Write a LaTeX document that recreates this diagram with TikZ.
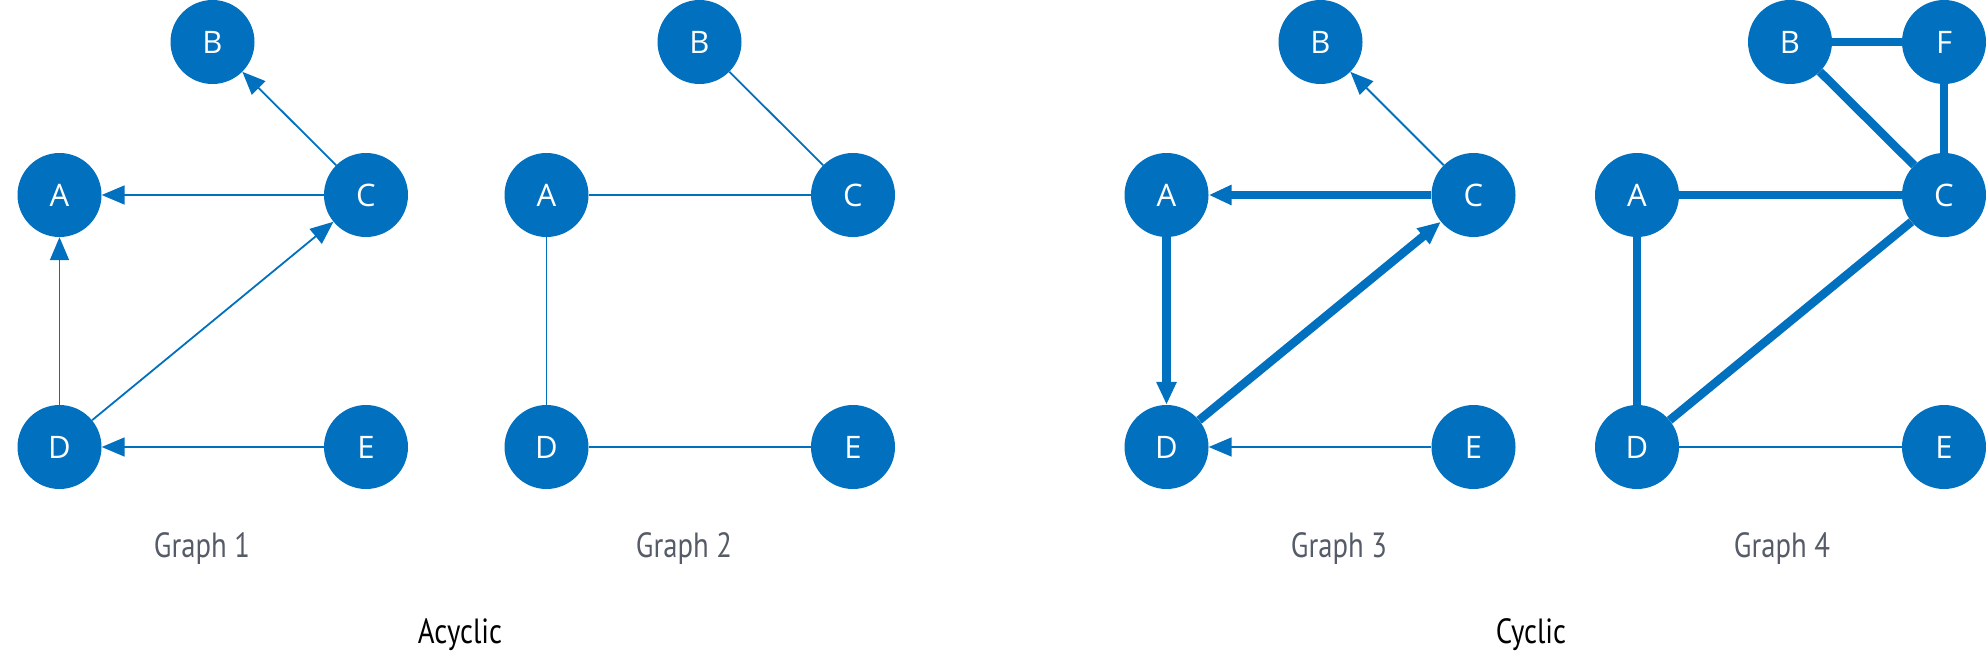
\documentclass[tikz,border=0pt]{standalone}
\usepackage{fontspec}
\usetikzlibrary{arrows.meta}
\newfontfamily\nodefont{Open Sans}
\newfontfamily\labfont[FakeStretch=0.82]{PT Sans}
\definecolor{gblue}{HTML}{0070BF}
\definecolor{ggray}{HTML}{555C68}
\tikzset{
  gnode/.style={circle, fill=gblue, draw=none, minimum size=84pt, inner sep=0pt,
    text=white, font=\nodefont\fontsize{31}{31}\selectfont},
  thinedge/.style={draw=gblue, line width=1.8pt},
  thickedge/.style={draw=gblue, line width=8.5pt},
  arr/.style={-{Triangle[length=23pt,width=19pt]}},
  glabel/.style={anchor=base, text=ggray, font=\labfont\fontsize{35}{35}\selectfont},
  clabel/.style={anchor=base, text=black, font=\labfont\fontsize{35}{35}\selectfont}
}
\begin{document}
\begin{tikzpicture}[x=1pt,y=-1pt]
\useasboundingbox (0,0) rectangle (1986,658);
% Graph 1
\node[gnode] (a1) at (59.5,195) {A};
\node[gnode] (b1) at (212.5,42) {B};
\node[gnode] (c1) at (366,195) {C};
\node[gnode] (d1) at (59.5,447) {D};
\node[gnode] (e1) at (366,447) {E};
\draw[thinedge,arr] (c1) -- (b1);
\draw[thinedge,arr] (c1) -- (a1);
\draw[thinedge,arr] (d1) -- (a1);
\draw[thinedge,arr] (d1) -- (c1);
\draw[thinedge,arr] (e1) -- (d1);
\node[glabel] (g1) at (202,557) {Graph 1};
% Graph 2
\node[gnode] (a2) at (546.5,195) {A};
\node[gnode] (b2) at (699.5,42) {B};
\node[gnode] (c2) at (853,195) {C};
\node[gnode] (d2) at (546.5,447) {D};
\node[gnode] (e2) at (853,447) {E};
\draw[thinedge] (b2) -- (c2);
\draw[thinedge] (a2) -- (c2);
\draw[thinedge] (a2) -- (d2);
\draw[thinedge] (d2) -- (e2);
\node[glabel] (g2) at (684,557) {Graph 2};
% Graph 3
\node[gnode] (a3) at (1166.5,195) {A};
\node[gnode] (b3) at (1320.5,42) {B};
\node[gnode] (c3) at (1473.5,195) {C};
\node[gnode] (d3) at (1166.5,447) {D};
\node[gnode] (e3) at (1473.5,447) {E};
\draw[thinedge,arr] (c3) -- (b3);
\draw[thickedge,arr] (c3) -- (a3);
\draw[thickedge,arr] (a3) -- (d3);
\draw[thickedge,arr] (d3) -- (c3);
\draw[thinedge,arr] (e3) -- (d3);
\node[glabel] (g3) at (1339,557) {Graph 3};
% Graph 4
\node[gnode] (a4) at (1637,195) {A};
\node[gnode] (b4) at (1790,42) {B};
\node[gnode] (f4) at (1944,42) {F};
\node[gnode] (c4) at (1944,195) {C};
\node[gnode] (d4) at (1637,447) {D};
\node[gnode] (e4) at (1944,447) {E};
\draw[thickedge] (b4) -- (f4);
\draw[thickedge] (b4) -- (c4);
\draw[thickedge] (f4) -- (c4);
\draw[thickedge] (a4) -- (c4);
\draw[thickedge] (a4) -- (d4);
\draw[thickedge] (d4) -- (c4);
\draw[thinedge] (d4) -- (e4);
\node[glabel] (g4) at (1782,557) {Graph 4};
% group labels
\node[clabel] (acyc) at (460,643) {Acyclic};
\node[clabel] (cyc) at (1531,643) {Cyclic};
\end{tikzpicture}
\end{document}
